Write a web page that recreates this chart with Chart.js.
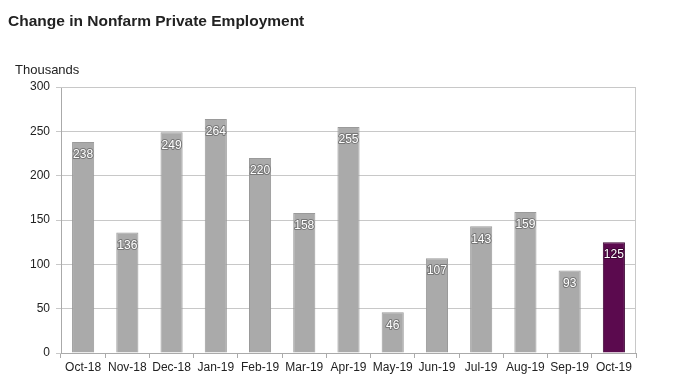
<!DOCTYPE html>
<html lang="en">
  <head>
    <meta charset="UTF-8" />
    <title>Change in Nonfarm Private Employment</title>
    <style>
      html, body { margin: 0; padding: 0; background: #fff; }
      #wrap { position: relative; width: 680px; height: 382px; }
    </style>
  </head>
  <body>
    <div id="wrap">
      <canvas id="myChart" width="680" height="382"></canvas>
    </div>

    <script src="https://cdn.jsdelivr.net/npm/chart.js@4/dist/chart.umd.min.js"></script>

    <!--Chart data-->
    <script>
      var months = ["Oct-18", "Nov-18", "Dec-18", "Jan-19", "Feb-19", "Mar-19", "Apr-19",
        "May-19", "Jun-19", "Jul-19", "Aug-19", "Sep-19", "Oct-19"];
      var jobs = [238, 136, 249, 264, 220, 158, 255, 46, 107, 143, 159, 93, 125];
      var yTicks = [0, 50, 100, 150, 200, 250, 300];
    </script>

    <script>
      var barColors = jobs.map(function (v, i) {
        return i === jobs.length - 1 ? "#5b0a4e" : "#aaaaaa";
      });
      var barBorders = jobs.map(function (v, i) {
        return i === jobs.length - 1 ? "#3d0634" : "#9a9a9a";
      });

      // title, "Thousands" and the value labels inside the bars
      var extras = {
        id: "extras",
        afterDraw: function (chart) {
          var ctx = chart.ctx;
          ctx.save();
          ctx.fillStyle = "#222";
          ctx.font = "bold 15.5px 'Liberation Sans', Arial, sans-serif";
          ctx.textBaseline = "middle";
          ctx.textAlign = "left";
          ctx.fillText("Change in Nonfarm Private Employment", 8, 22);
          ctx.font = "13px 'Liberation Sans', Arial, sans-serif";
          ctx.fillText("Thousands", 15, 70);

          var meta = chart.getDatasetMeta(0);
          ctx.font = "12px 'Liberation Sans', Arial, sans-serif";
          ctx.textAlign = "center";
          ctx.lineWidth = 2;
          ctx.lineJoin = "round";
          meta.data.forEach(function (bar, i) {
            var y = bar.y + 13;
            ctx.strokeStyle = i === jobs.length - 1 ? "#3d0634" : "#777";
            ctx.strokeText(String(jobs[i]), bar.x, y);
            ctx.fillStyle = "#fff";
            ctx.fillText(String(jobs[i]), bar.x, y);
          });
          ctx.restore();
        },
      };

      var ctx = document.getElementById("myChart").getContext("2d");
      var myChart = new Chart(ctx, {
        type: "bar",
        data: {
          labels: months,
          datasets: [
            {
              data: jobs,
              backgroundColor: barColors,
              borderColor: barBorders,
              borderWidth: 1,
              barPercentage: 0.5,
              categoryPercentage: 1.0,
            },
          ],
        },
        options: {
          responsive: false,
          animation: false,
          layout: { padding: { left: 0, right: 44, top: 87, bottom: 0 } },
          plugins: { legend: { display: false }, tooltip: { enabled: false } },
          scales: {
            x: {
              offset: true,
              grid: {
                offset: true,
                drawOnChartArea: false,
                color: "#aaa",
                tickLength: 5,
              },
              border: { color: "#aaa" },
              ticks: {
                color: "#222",
                font: { family: "'Liberation Sans', Arial, sans-serif", size: 12 },
                maxRotation: 0,
                autoSkip: false,
                padding: 2,
              },
              afterFit: function (scale) { scale.height = 29; },
            },
            y: {
              min: 0,
              max: 300,
              afterBuildTicks: function (scale) {
                scale.ticks = yTicks.map(function (v) { return { value: v }; });
              },
              grid: { color: "#c8c8c8", tickLength: 5 },
              border: { color: "#aaa" },
              ticks: {
                color: "#222",
                font: { family: "'Liberation Sans', Arial, sans-serif", size: 12 },
                padding: 6,
              },
              afterFit: function (scale) { scale.width = 61; },
            },
          },
        },
        plugins: [
          extras,
          {
            id: "frame",
            afterDatasetsDraw: function (chart) {
              var a = chart.chartArea;
              var c = chart.ctx;
              c.save();
              c.strokeStyle = "#c8c8c8";
              c.lineWidth = 1;
              c.beginPath();
              c.moveTo(a.left, a.top + 0.5);
              c.lineTo(a.right - 0.5, a.top + 0.5);
              c.lineTo(a.right - 0.5, a.bottom);
              c.stroke();
              c.restore();
            },
          },
        ],
      });
    </script>
  </body>
</html>
